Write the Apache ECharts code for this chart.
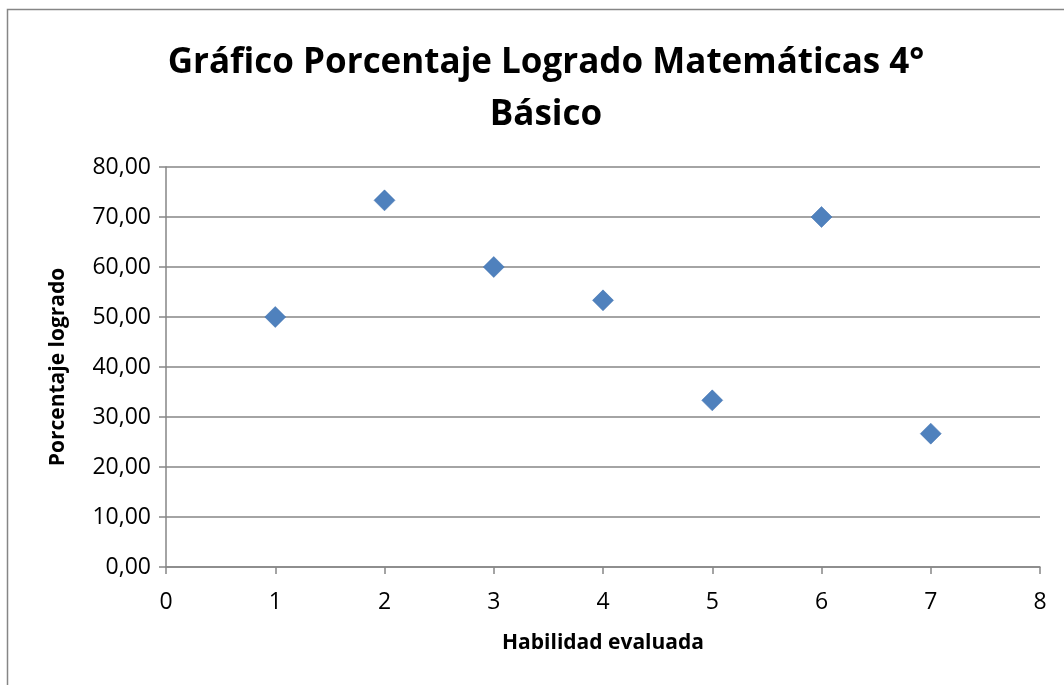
<!DOCTYPE html>
<html><head><meta charset="utf-8">
<script src="https://cdn.jsdelivr.net/npm/echarts@6/dist/echarts.min.js"></script>
<style>html,body{margin:0;padding:0;background:#fff}#c{width:1064px;height:685px}</style>
</head><body><div id="c"></div>
<script>
const xValues = [1, 2, 3, 4, 5, 6, 7];
const yValues = [50.00, 73.33, 60.00, 53.33, 33.33, 70.00, 26.67];
const titleText = 'Gráfico Porcentaje Logrado Matemáticas 4°\nBásico';
const xName = 'Habilidad evaluada';
const yName = 'Porcentaje logrado';

const chart = echarts.init(document.getElementById('c'));
const font = '"Open Sans", "Liberation Sans", sans-serif';
chart.setOption({
  animation: false,
  backgroundColor: '#fff',
  graphic: [{type:'rect', shape:{x:7.5,y:9.5,width:1070,height:690}, style:{fill:'none', stroke:'#868686', lineWidth:1.5}}],
  title: {text: titleText, left: 541, top: 32, textAlign: 'center',
    textStyle: {fontFamily: font, fontWeight: 'bold', fontSize: 35, lineHeight: 52, color: '#000'}},
  grid: {left: 166, right: 24, top: 167, bottom: 118},
  xAxis: {type: 'value', min: 0, max: 8, interval: 1,
    name: xName, nameLocation: 'middle', nameGap: 66,
    nameTextStyle: {fontFamily: font, fontWeight: 'bold', fontSize: 21, color: '#000'},
    axisLine: {show: true, lineStyle: {color: '#868686', width: 1.5}},
    axisTick: {show: true, length: 7, lineStyle: {color: '#868686', width: 1.5}},
    axisLabel: {fontFamily: font, fontSize: 23, color: '#000', margin: 24},
    splitLine: {show: false}},
  yAxis: {type: 'value', min: 0, max: 80, interval: 10,
    name: yName, nameLocation: 'middle', nameGap: 97, nameRotate: 90,
    nameTextStyle: {fontFamily: font, fontWeight: 'bold', fontSize: 21, color: '#000'},
    axisLine: {show: true, lineStyle: {color: '#868686', width: 1.5}},
    axisTick: {show: true, length: 7, lineStyle: {color: '#868686', width: 1.5}},
    axisLabel: {fontFamily: font, fontSize: 23, color: '#000', margin: 15,
      formatter: v => v.toFixed(2).replace('.', ',')},
    splitLine: {show: true, lineStyle: {color: '#868686', width: 1.5}}},
  series: [{type: 'scatter', symbol: 'diamond', symbolSize: 21,
    itemStyle: {color: '#4F81BD', opacity: 1, borderColor: '#3E6FAE', borderWidth: 0.5},
    data: xValues.map((x, i) => [x, yValues[i]])}]
});
</script></body></html>
